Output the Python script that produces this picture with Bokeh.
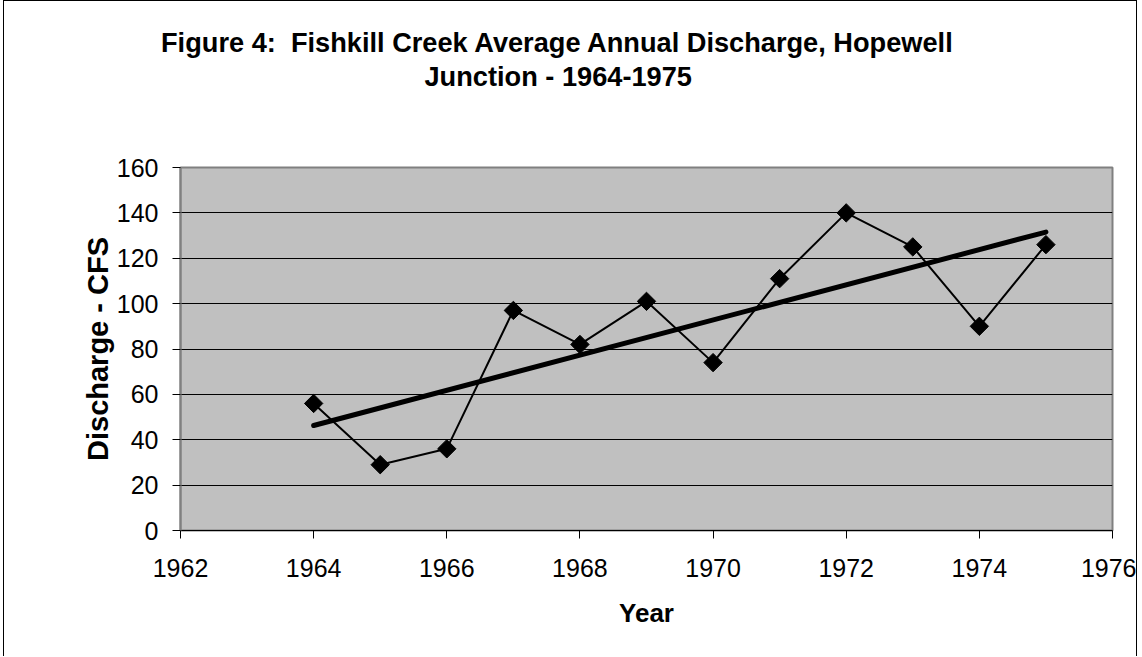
import numpy as np
from bokeh.plotting import figure
from bokeh.models import Range1d, FixedTicker, Title
from bokeh.embed import file_html
from bokeh.resources import INLINE

# ---- data ----
years = [1964, 1965, 1966, 1967, 1968, 1969, 1970, 1971, 1972, 1973, 1974, 1975]
discharge = [56, 29, 36, 97, 82, 101, 74, 111, 140, 125, 90, 126]
x_ticks = [1962, 1964, 1966, 1968, 1970, 1972, 1974, 1976]
y_ticks = [0, 20, 40, 60, 80, 100, 120, 140, 160]
title_lines = ["Figure 4:\u00a0 Fishkill Creek Average Annual Discharge, Hopewell",
               "Junction - 1964-1975"]
x_title = "Year"
y_title = "Discharge - CFS"

# linear trendline (least squares) from the data
slope, intercept = np.polyfit(years, discharge, 1)
trend_x = [years[0], years[-1]]
trend_y = [slope * x + intercept for x in trend_x]

FONT = "Liberation Sans"

p = figure(width=1134, height=656, output_backend="svg", toolbar_location=None,
           title=None,
           x_range=Range1d(x_ticks[0], x_ticks[-1]), y_range=Range1d(y_ticks[0], y_ticks[-1]),
           min_border_left=176, min_border_right=26, min_border_top=166, min_border_bottom=127)

p.background_fill_color = "#C0C0C0"
p.border_fill_color = "white"
p.outline_line_color = "#808080"
p.outline_line_width = 2
p.styles = {"border-left": "1px solid black", "border-top": "1px solid black",
            "border-right": "1px solid black", "margin-left": "3px"}

p.xgrid.visible = False
p.ygrid.ticker = FixedTicker(ticks=y_ticks)
p.ygrid.grid_line_color = "black"
p.ygrid.grid_line_width = 1

for ax in (p.xaxis[0], p.yaxis[0]):
    ax.major_tick_in = 0
    ax.major_tick_out = 8
    ax.minor_tick_in = 0
    ax.minor_tick_out = 0
    ax.major_tick_line_color = "black"
    ax.major_label_text_font = FONT
    ax.major_label_text_font_size = "25px"
    ax.major_label_text_color = "black"
    ax.axis_label_text_font = FONT
    ax.axis_label_text_font_style = "bold"
    ax.axis_label_text_color = "black"

p.xaxis.ticker = FixedTicker(ticks=x_ticks)
p.yaxis.ticker = FixedTicker(ticks=y_ticks)
p.xaxis.axis_label = x_title
p.yaxis.axis_label = y_title
p.xaxis.axis_label_text_font_size = "26px"
p.yaxis.axis_label_text_font_size = "29px"
p.xaxis.axis_line_color = "black"
p.yaxis.axis_line_color = "#808080"
p.yaxis.axis_line_width = 2
p.xaxis.major_label_standoff = 20
p.yaxis.major_label_standoff = 14
p.xaxis.axis_label_standoff = 18
p.yaxis.axis_label_standoff = 0

p.line(years, discharge, line_color="black", line_width=2)
p.line(trend_x, trend_y, line_color="black", line_width=5, line_cap="round")
p.scatter(years, discharge, marker="square", size=13, angle=np.pi / 4,
          fill_color="black", line_color="black")

# title block: a blank spacer nearest the plot, then line 2, then line 1
p.add_layout(Title(text=" ", text_font_size="1px", standoff=71.5), "above")
p.add_layout(Title(text=title_lines[1], align="left", offset=244, standoff=1,
                   text_font=FONT, text_font_style="bold", text_font_size="27.2px",
                   text_color="black"), "above")
p.add_layout(Title(text=title_lines[0], align="left", offset=-19.5, standoff=1,
                   text_font=FONT, text_font_style="bold", text_font_size="27.2px",
                   text_color="black"), "above")

open("out.html", "w").write(file_html(p, INLINE))
